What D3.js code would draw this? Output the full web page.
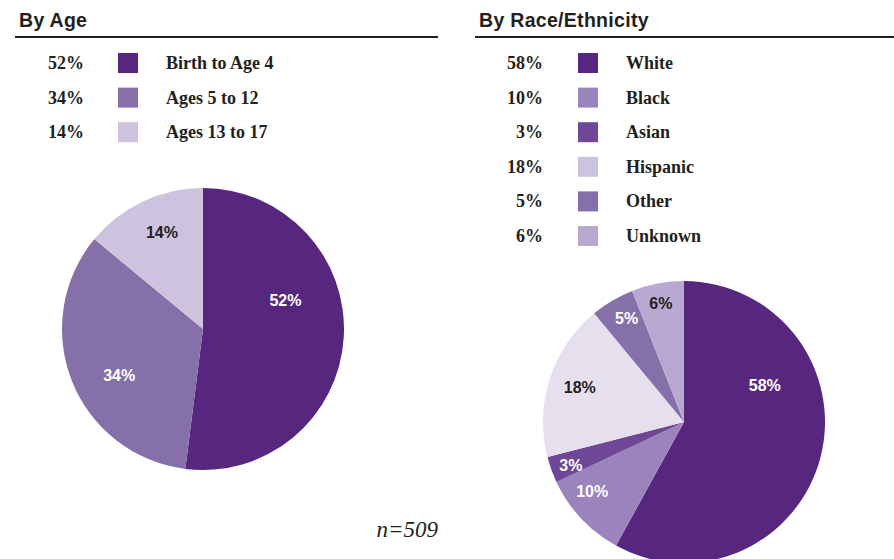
<!DOCTYPE html>
<html>
<head>
<meta charset="utf-8">
<script src="https://cdn.jsdelivr.net/npm/d3@7"></script>
<style>
  html, body { margin: 0; padding: 0; background: #fff; }
  svg { display: block; }
</style>
</head>
<body>
<svg id="chart" width="894" height="559"></svg>
<script>
// ---------- data ----------
const ageCategories = ["Birth to Age 4", "Ages 5 to 12", "Ages 13 to 17"];
const ageValues = [52, 34, 14];
const ageColors = ["#57267f", "#8670aa", "#cdc3de"];
const ageSliceColors = ["#57267f", "#8670aa", "#cdc3de"];
const ageLabelColors = ["#ffffff", "#ffffff", "#231f20"];

const raceCategories = ["White", "Black", "Asian", "Hispanic", "Other", "Unknown"];
const raceValues = [58, 10, 3, 18, 5, 6];
const raceColors = ["#57267f", "#9a84bb", "#6e4896", "#cdc3de", "#8670aa", "#b9a9d1"];
const raceSliceColors = ["#57267f", "#9a84bb", "#6e4896", "#e5dfee", "#8670aa", "#b9a9d1"];
const raceLabelColors = ["#ffffff", "#ffffff", "#ffffff", "#231f20", "#ffffff", "#231f20"];

const sampleNote = "n=509";

// ---------- layout (label placement: angle in degrees from top, distance as fraction of radius) ----------
const ageLabelPlace = [[70.5, 0.62], [241, 0.68], [337, 0.745]];
const raceLabelPlace = [[65.5, 0.63], [233, 0.815], [249, 0.86], [288.6, 0.78], [331, 0.84], [349, 0.86]];

const svg = d3.select("#chart");

function panel(opts) {
  const g = svg.append("g");
  // title
  g.append("text")
    .attr("x", opts.titleX).attr("y", 27)
    .attr("font-family", "Liberation Sans, Arial, sans-serif")
    .attr("font-weight", "bold").attr("font-size", 19.5)
    .attr("letter-spacing", 0.3)
    .attr("fill", "#231f20")
    .text(opts.title);
  g.append("line")
    .attr("x1", opts.ruleX1).attr("x2", opts.ruleX2)
    .attr("y1", 37).attr("y2", 37)
    .attr("stroke", "#231f20").attr("stroke-width", 2.2);

  // legend
  const rowY = d3.scalePoint().domain(opts.categories).range([63, 63 + 34.6 * (opts.categories.length - 1)]);
  const rows = g.selectAll("g.row").data(opts.categories).enter().append("g")
    .attr("transform", d => `translate(0,${rowY(d)})`);
  rows.append("text")
    .attr("x", opts.pctX).attr("y", 6)
    .attr("text-anchor", "end")
    .attr("font-family", "Liberation Serif, Times New Roman, serif")
    .attr("font-weight", "bold").attr("font-size", 18)
    .attr("fill", "#231f20")
    .text((d, i) => opts.values[i] + "%");
  rows.append("rect")
    .attr("x", opts.boxX).attr("y", -10)
    .attr("width", 20).attr("height", 20)
    .attr("fill", (d, i) => opts.colors[i]);
  rows.append("text")
    .attr("x", opts.labelX).attr("y", 6)
    .attr("font-family", "Liberation Serif, Times New Roman, serif")
    .attr("font-weight", "bold").attr("font-size", 18)
    .attr("fill", "#231f20")
    .text(d => d);

  // pie
  const r = 141;
  const pie = d3.pie().sort(null).value(d => d);
  const arc = d3.arc().innerRadius(0).outerRadius(r);
  const arcs = pie(opts.values);
  const pg = g.append("g").attr("transform", `translate(${opts.cx},${opts.cy})`);
  pg.selectAll("path").data(arcs).enter().append("path")
    .attr("d", arc)
    .attr("fill", (d, i) => opts.sliceColors[i]);
  pg.selectAll("text").data(arcs).enter().append("text")
    .attr("x", (d, i) => Math.sin(opts.labelPlace[i][0] * Math.PI / 180) * opts.labelPlace[i][1] * r)
    .attr("y", (d, i) => -Math.cos(opts.labelPlace[i][0] * Math.PI / 180) * opts.labelPlace[i][1] * r)
    .attr("dy", "0.36em")
    .attr("text-anchor", "middle")
    .attr("font-family", "Liberation Sans, Arial, sans-serif")
    .attr("font-weight", "bold").attr("font-size", 16)
    .attr("fill", (d, i) => opts.labelColors[i])
    .text((d, i) => opts.values[i] + "%");
}

panel({
  title: "By Age", titleX: 19, ruleX1: 15, ruleX2: 438,
  categories: ageCategories, values: ageValues, colors: ageColors,
  sliceColors: ageSliceColors, labelColors: ageLabelColors, labelPlace: ageLabelPlace,
  pctX: 84, boxX: 118, labelX: 166, cx: 203, cy: 329
});

panel({
  title: "By Race/Ethnicity", titleX: 479, ruleX1: 475, ruleX2: 894,
  categories: raceCategories, values: raceValues, colors: raceColors,
  sliceColors: raceSliceColors, labelColors: raceLabelColors, labelPlace: raceLabelPlace,
  pctX: 543, boxX: 578, labelX: 626, cx: 684, cy: 422
});

svg.append("text")
  .attr("x", 438).attr("y", 537)
  .attr("text-anchor", "end")
  .attr("font-family", "Liberation Serif, Times New Roman, serif")
  .attr("font-style", "italic").attr("font-size", 23)
  .attr("fill", "#231f20")
  .text(sampleNote);
</script>
</body>
</html>
